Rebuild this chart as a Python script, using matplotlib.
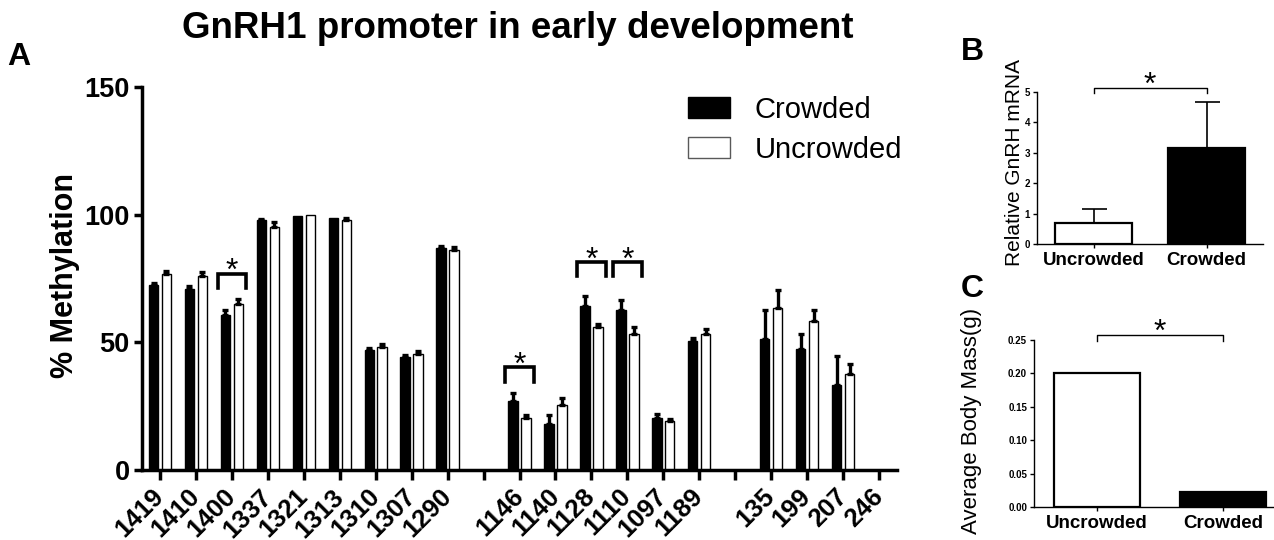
"""
GnRH1 promoter methylation (A), GnRH mRNA (B) and body mass (C)
"""

import matplotlib
matplotlib.use('Agg')
import matplotlib.pyplot as plt
from matplotlib.patches import Patch
import numpy as np

plt.rcParams['font.family'] = ['Liberation Sans', 'DejaVu Sans']

# ---- panel A data ----
sites = ['1419', '1410', '1400', '1337', '1321', '1313', '1310', '1307', '1290', '',
         '1146', '1140', '1128', '1110', '1097', '1189', '',
         '135', '199', '207', '246']
crowded = [72.5, 70.8, 60.8, 97.8, 99.5, 98.5, 46.9, 44.2, 86.8, np.nan,
           27.0, 18.2, 64.3, 62.7, 20.4, 50.5, np.nan,
           51.5, 47.2, 33.2, np.nan]
crowded_err = [0.8, 1.3, 1.8, 0.6, 0.0, 0.0, 0.9, 0.7, 0.8, np.nan,
               3.0, 3.3, 3.8, 3.8, 1.7, 1.1, np.nan,
               11.0, 6.0, 11.5, np.nan]
uncrowded = [76.8, 76.0, 65.2, 95.2, 100.0, 97.9, 48.2, 45.6, 86.3, np.nan,
             20.4, 25.6, 55.9, 53.3, 19.1, 53.1, np.nan,
             63.4, 58.5, 37.6, np.nan]
uncrowded_err = [1.3, 1.5, 1.6, 1.9, 0.0, 0.9, 1.2, 1.0, 1.2, np.nan,
                 1.1, 2.7, 1.1, 2.9, 1.0, 2.2, np.nan,
                 7.1, 4.3, 4.0, np.nan]

# significance brackets: site index and bracket base (% methylation)
sig_idx = [2, 10, 12, 13]
sig_base = [71.2, 34.5, 75.8, 75.8]

# ---- panel B / C data ----
groups = ['Uncrowded', 'Crowded']
group_colors = ['white', 'black']
mrna = [0.68, 3.15]
mrna_err = [0.48, 1.53]
mass = [0.201, 0.023]

W, H = 1274, 540
fig = plt.figure(figsize=(W / 100, H / 100), dpi=100)


def fbox(x0, y0, x1, y1):
    """pixel box (top-left origin) -> figure fraction rect"""
    return [x0 / W, 1 - y1 / H, (x1 - x0) / W, (y1 - y0) / H]


# ================= panel A =================
ax = fig.add_axes(fbox(142, 87, 897, 470))
x = np.arange(len(sites))
bw = 0.26
off = 0.18

for vals, errs, xo, fc in [(crowded, crowded_err, -off, 'black'),
                           (uncrowded, uncrowded_err, off, 'white')]:
    v = np.array(vals)
    e = np.array(errs)
    m = ~np.isnan(v)
    ax.bar(x[m] + xo, v[m], width=bw, color=fc, edgecolor='black', linewidth=1.0, zorder=2)
    me = m & (e > 0)
    ax.errorbar(x[me] + xo, v[me], yerr=[np.zeros(me.sum()), e[me]], fmt='none',
                ecolor='black', elinewidth=2.4, capsize=2.2, capthick=2.4, zorder=3)

# brackets with stars
leg = 5.7
for i, base in zip(sig_idx, sig_base):
    ax.plot([i - 0.4, i - 0.4, i + 0.4, i + 0.4], [base, base + leg, base + leg, base],
            color='black', lw=2.6, solid_joinstyle='miter', zorder=4)
    ax.annotate('*', xy=(i, base + leg), xytext=(0, 1.0), textcoords='offset points',
                ha='center', va='center', fontsize=23)

ax.set_xlim(-0.5, 20.5)
ax.set_ylim(0, 150)
ax.set_yticks([0, 50, 100, 150])
ax.set_xticks(x)
ax.set_xticklabels(sites)
ax.spines[['top', 'right']].set_visible(False)
ax.spines[['left', 'bottom']].set_linewidth(2.5)
ax.tick_params(axis='y', length=6, width=2.5, pad=3, labelsize=19.5)
ax.tick_params(axis='x', length=7.5, width=2.5, pad=9, labelsize=18.5)
for t in ax.get_yticklabels():
    t.set_fontweight('bold')
for t in ax.get_xticklabels():
    t.set_fontweight('bold')
    t.set_rotation(45)
    t.set_ha('right')
    t.set_va('center')
    t.set_rotation_mode('anchor')

fig.text(65 / W, 1 - 276 / H, '% Methylation', rotation=90, ha='center', va='center',
         fontsize=22, fontweight='bold')
fig.text(518 / W, 1 - 28 / H, 'GnRH1 promoter in early development', ha='center',
         va='center', fontsize=26.5, fontweight='bold')
fig.text(7 / W, 1 - 57 / H, 'A', ha='left', va='center', fontsize=23, fontweight='bold')

handles = [Patch(facecolor='black', edgecolor='black'),
           Patch(facecolor='white', edgecolor='0.35', linewidth=1.0)]
fig.legend(handles, ['Crowded', 'Uncrowded'], loc='upper left',
           bbox_to_anchor=(688 / W, 1 - 96 / H), frameon=False, fontsize=21,
           handlelength=1.43, handleheight=0.72, handletextpad=0.85,
           labelspacing=0.4, borderpad=0, borderaxespad=0)


def small_panel(rect, vals, ylim, yticks, fmt, errs=None):
    a = fig.add_axes(rect)
    xs = np.arange(len(groups))
    a.bar(xs, vals, width=0.68, color=group_colors, edgecolor='black', linewidth=1.6, zorder=2)
    if errs is not None:
        a.errorbar(xs, vals, yerr=[np.zeros(len(errs)), errs], fmt='none', ecolor='black',
                   elinewidth=1.2, capsize=9, capthick=1.2, zorder=1)
    a.set_xlim(-0.5, 1.5)
    a.set_ylim(*ylim)
    a.set_yticks(yticks)
    a.set_yticklabels([fmt.format(v) for v in yticks], fontweight='bold', fontsize=7)
    a.set_xticks(xs)
    a.set_xticklabels(groups, fontweight='bold', fontsize=13.5)
    a.spines[['top', 'right']].set_visible(False)
    a.spines[['left', 'bottom']].set_linewidth(1.0)
    a.tick_params(axis='y', length=3, width=1, pad=2)
    a.tick_params(axis='x', length=3, width=1, pad=3)
    return a


# ================= panel B =================
axb = small_panel(fbox(1037, 92, 1263, 244), mrna, (0, 5), [0, 1, 2, 3, 4, 5], '{:d}', mrna_err)
axb.plot([0, 0, 1, 1], [4.98, 5.14, 5.14, 4.98], color='black', lw=1.0, clip_on=False)
axb.annotate('*', xy=(0.5, 5.14), xytext=(0, 1.5), textcoords='offset points',
             ha='center', va='center', fontsize=23, annotation_clip=False)
fig.text(1014 / W, 1 - 162 / H, 'Relative GnRH mRNA', rotation=90, ha='center',
         va='center', fontsize=15)
fig.text(961 / W, 1 - 52 / H, 'B', ha='left', va='center', fontsize=23, fontweight='bold')

# ================= panel C =================
axc = small_panel(fbox(1034, 340, 1286, 507), mass, (0, 0.25),
                  [0, 0.05, 0.10, 0.15, 0.20, 0.25], '{:.2f}')
axc.plot([0, 0, 1, 1], [0.249, 0.2575, 0.2575, 0.249], color='black', lw=1.0, clip_on=False)
axc.annotate('*', xy=(0.5, 0.2575), xytext=(0, 1.5), textcoords='offset points',
             ha='center', va='center', fontsize=23, annotation_clip=False)
fig.text(971 / W, 1 - 421 / H, 'Average Body Mass(g)', rotation=90, ha='center',
         va='center', fontsize=16)
fig.text(961 / W, 1 - 289 / H, 'C', ha='left', va='center', fontsize=23, fontweight='bold')

fig.savefig('out.png', dpi=100)
